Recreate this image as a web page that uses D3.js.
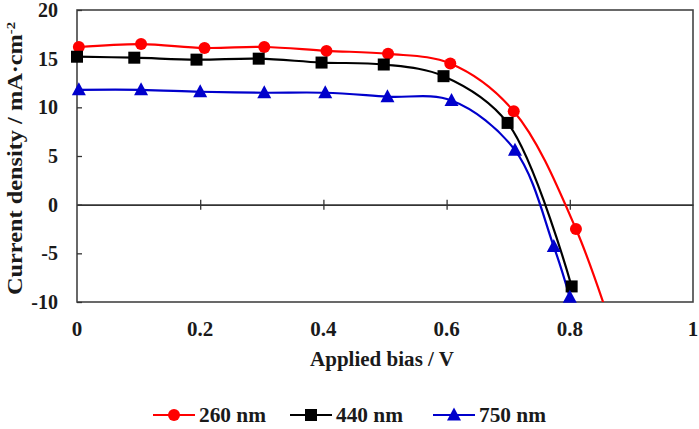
<!DOCTYPE html>
<html>
<head>
<meta charset="utf-8">
<script src="https://cdn.jsdelivr.net/npm/d3@7"></script>
<style>
  body { margin: 0; background: #fff; }
</style>
</head>
<body>
<div id="chart"></div>
<script>
// J-V curves
const seriesNames = ['260 nm', '440 nm', '750 nm'];
const seriesColors = ['#ff0000', '#000000', '#0000cc'];
const seriesSymbols = ['circle', 'square', 'triangle'];

const biasRed = [0.003, 0.104, 0.207, 0.304, 0.405, 0.505, 0.606, 0.709, 0.81, 0.9];
const jRed = [16.2, 16.5, 16.1, 16.2, 15.8, 15.5, 14.5, 9.6, -2.5, -19];

const biasBlack = [0, 0.093, 0.194, 0.295, 0.397, 0.498, 0.595, 0.699, 0.803];
const jBlack = [15.2, 15.1, 14.9, 15.0, 14.6, 14.4, 13.2, 8.4, -8.4];

const biasBlue = [0.003, 0.104, 0.2, 0.304, 0.403, 0.504, 0.608, 0.711, 0.774, 0.8];
const jBlue = [11.8, 11.8, 11.6, 11.5, 11.5, 11.1, 10.7, 5.6, -4.3, -9.5];

const xTicks = [0, 0.2, 0.4, 0.6, 0.8, 1];
const yTicks = [-10, -5, 0, 5, 10, 15, 20];

const series = [
    {x: biasRed, y: jRed},
    {x: biasBlack, y: jBlack},
    {x: biasBlue, y: jBlue}
].map((s, i) => ({
    name: seriesNames[i],
    color: seriesColors[i],
    symbol: seriesSymbols[i],
    points: s.x.map((v, k) => ({x: v, y: s.y[k]}))
}));

const FONT = 'Liberation Serif';

const W = 699, H = 429;
const margin = {left: 77, top: 10, right: 6, bottom: 127};
const w = W - margin.left - margin.right;
const h = H - margin.top - margin.bottom;

const svg = d3.select('#chart').append('svg')
    .attr('width', W)
    .attr('height', H)
    .attr('font-family', FONT)
    .attr('font-weight', 'bold');

const g = svg.append('g').attr('transform', `translate(${margin.left},${margin.top})`);

const x = d3.scaleLinear().domain([0, 1]).range([0, w]);
const y = d3.scaleLinear().domain([-10, 20]).range([h, 0]);

svg.append('defs').append('clipPath').attr('id', 'plot-clip')
    .append('rect').attr('width', w).attr('height', h);

// frame
g.append('rect')
    .attr('width', w).attr('height', h)
    .attr('fill', 'none')
    .attr('stroke', '#444')
    .attr('stroke-width', 1.6);

// y axis, ticks inward
const yAxis = g.append('g')
    .call(d3.axisRight(y).tickValues(yTicks).tickSize(5).tickFormat(''));
yAxis.select('.domain').remove();
yAxis.selectAll('line').attr('stroke', '#333').attr('stroke-width', 1.3);

g.selectAll('.ylab')
    .data(yTicks)
    .enter().append('text')
    .attr('class', 'ylab')
    .attr('x', -19)
    .attr('y', d => y(d) + 7)
    .attr('text-anchor', 'end')
    .attr('font-family', FONT)
    .attr('font-size', 20)
    .attr('fill', '#1a1a1a')
    .text(d => d);

// x axis on the zero line, ticks crossing
const xAxis = g.append('g')
    .attr('transform', `translate(0,${y(0)})`)
    .call(d3.axisBottom(x).tickValues(xTicks.slice(1, -1)).tickSize(0).tickFormat(''));
xAxis.select('.domain').attr('stroke', '#333').attr('stroke-width', 1.6);
xAxis.selectAll('.tick line')
    .attr('y1', -5).attr('y2', 5)
    .attr('stroke', '#333').attr('stroke-width', 1.3);

g.selectAll('.xlab')
    .data(xTicks)
    .enter().append('text')
    .attr('class', 'xlab')
    .attr('x', d => x(d))
    .attr('y', h + 34)
    .attr('text-anchor', 'middle')
    .attr('font-family', FONT)
    .attr('font-size', 21)
    .attr('fill', '#1a1a1a')
    .text(d => d);

// axis titles
svg.append('text')
    .attr('x', 310)
    .attr('y', 366)
    .attr('font-family', FONT)
    .attr('font-size', 20)
    .attr('textLength', 144)
    .attr('lengthAdjust', 'spacingAndGlyphs')
    .attr('fill', '#1a1a1a')
    .text('Applied bias / V');

svg.append('text')
    .attr('transform', 'translate(22,295) rotate(-90)')
    .attr('font-family', FONT)
    .attr('font-size', 20)
    .attr('textLength', 273)
    .attr('lengthAdjust', 'spacingAndGlyphs')
    .attr('fill', '#1a1a1a')
    .html('Current density / mA·cm<tspan dy="-7" font-size="12">-2</tspan>');

// curves
const line = d3.line()
    .x(d => x(d.x))
    .y(d => y(d.y))
    .curve(d3.curveCatmullRom.alpha(0.5));

const plot = g.append('g').attr('clip-path', 'url(#plot-clip)');

function drawMarker(sel, symbol, color, cx, cy) {
    if (symbol === 'circle') {
        sel.append('circle').attr('cx', cx).attr('cy', cy).attr('r', 6).attr('fill', color);
    } else if (symbol === 'square') {
        sel.append('rect').attr('x', cx - 6).attr('y', cy - 6)
            .attr('width', 12).attr('height', 12).attr('fill', color);
    } else {
        sel.append('path')
            .attr('d', `M${cx},${cy - 7.5}L${cx + 7},${cy + 5.5}L${cx - 7},${cy + 5.5}Z`)
            .attr('fill', color);
    }
}

series.forEach(s => {
    plot.append('path')
        .datum(s.points)
        .attr('fill', 'none')
        .attr('stroke', s.color)
        .attr('stroke-width', 2.2)
        .attr('d', line);
});

series.forEach(s => {
    const mg = g.append('g');
    s.points.filter(p => p.y >= -10.5 && p.y <= 20).forEach(p => {
        drawMarker(mg, s.symbol, s.color, x(p.x), y(p.y));
    });
});

// legend
const legendX = [153, 290, 433];
const legendY = 415;
series.forEach((s, i) => {
    const lg = svg.append('g');
    lg.append('line')
        .attr('x1', legendX[i]).attr('x2', legendX[i] + 42)
        .attr('y1', legendY).attr('y2', legendY)
        .attr('stroke', s.color).attr('stroke-width', 2.2);
    drawMarker(lg, s.symbol, s.color, legendX[i] + 21, legendY);
    lg.append('text')
        .attr('x', legendX[i] + 46)
        .attr('y', legendY + 6.5)
        .attr('font-family', FONT)
        .attr('font-size', 20)
        .attr('textLength', 67)
        .attr('lengthAdjust', 'spacingAndGlyphs')
        .attr('fill', '#1a1a1a')
        .text(s.name);
});
</script>
</body>
</html>
